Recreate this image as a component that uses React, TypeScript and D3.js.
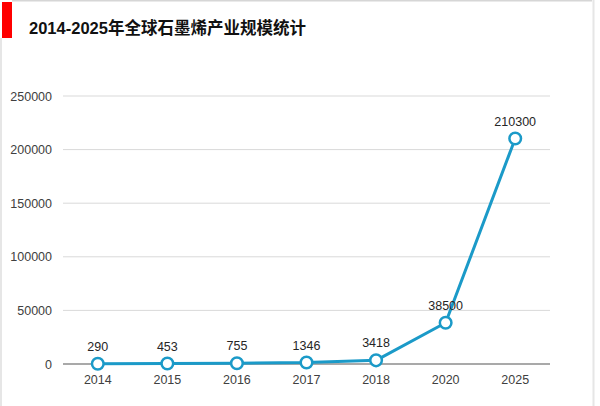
import * as React from "react";
import * as d3 from "d3";

const years = ["2014", "2015", "2016", "2017", "2018", "2020", "2025"];
const values = [290, 453, 755, 1346, 3418, 38500, 210300];
const yTicks = [0, 50000, 100000, 150000, 200000, 250000];
const title = "2014-2025年全球石墨烯产业规模统计";

const W = 600;
const H = 406;
const LINE = "#1b9ac8";
const FONT = "Arial, 'Liberation Sans', 'Noto Sans CJK SC', sans-serif";

export default function App() {
  const x = d3.scaleBand<string>().domain(years).range([63, 550]);
  const y = d3.scaleLinear().domain([0, 250000]).range([364, 96]);
  const cx = (d: string) => (x(d) ?? 0) + x.bandwidth() / 2;

  const line = d3
    .line<number>()
    .x((_, i) => cx(years[i]))
    .y((v) => y(v));

  return (
    <svg
      width={W}
      height={H}
      style={{ position: "absolute", left: 0, top: 0, background: "#fff" }}
      fontFamily={FONT}
    >
      {/* frame */}
      <line x1={12} x2={592} y1={0.5} y2={0.5} stroke="#d6d6d6" strokeWidth={2} />
      <line x1={1} x2={1} y1={38} y2={406} stroke="#e6e6e6" strokeWidth={2} />
      <line x1={593.5} x2={593.5} y1={0} y2={406} stroke="#e6e6e6" strokeWidth={2} />
      <rect x={2} y={2} width={10} height={36} fill="#ff0000" />
      <text x={29} y={34} fontSize={16.5} fontWeight="bold" fill="#111">
        {title}
      </text>

      {/* grid + y labels */}
      {yTicks.map((t) => (
        <g key={t}>
          {t > 0 && (
            <line x1={63} x2={550} y1={y(t)} y2={y(t)} stroke="#d9d9d9" strokeWidth={1} />
          )}
          <text x={52} y={y(t) + 4.5} fontSize={12.5} fill="#404040" textAnchor="end">
            {t}
          </text>
        </g>
      ))}
      <line x1={63} x2={550} y1={364} y2={364} stroke="#8c8c8c" strokeWidth={1.3} />

      {/* x labels */}
      {years.map((d) => (
        <text key={d} x={cx(d)} y={384} fontSize={12.5} fill="#404040" textAnchor="middle">
          {d}
        </text>
      ))}

      <path d={line(values) ?? ""} fill="none" stroke={LINE} strokeWidth={3} strokeLinejoin="round" />
      {values.map((v, i) => (
        <g key={years[i]}>
          <circle cx={cx(years[i])} cy={y(v)} r={5.8} fill="#fff" stroke={LINE} strokeWidth={2.5} />
          <text
            x={cx(years[i])}
            y={y(v) - 13}
            fontSize={12.5}
            fill="#262626"
            textAnchor="middle"
          >
            {v}
          </text>
        </g>
      ))}
    </svg>
  );
}
